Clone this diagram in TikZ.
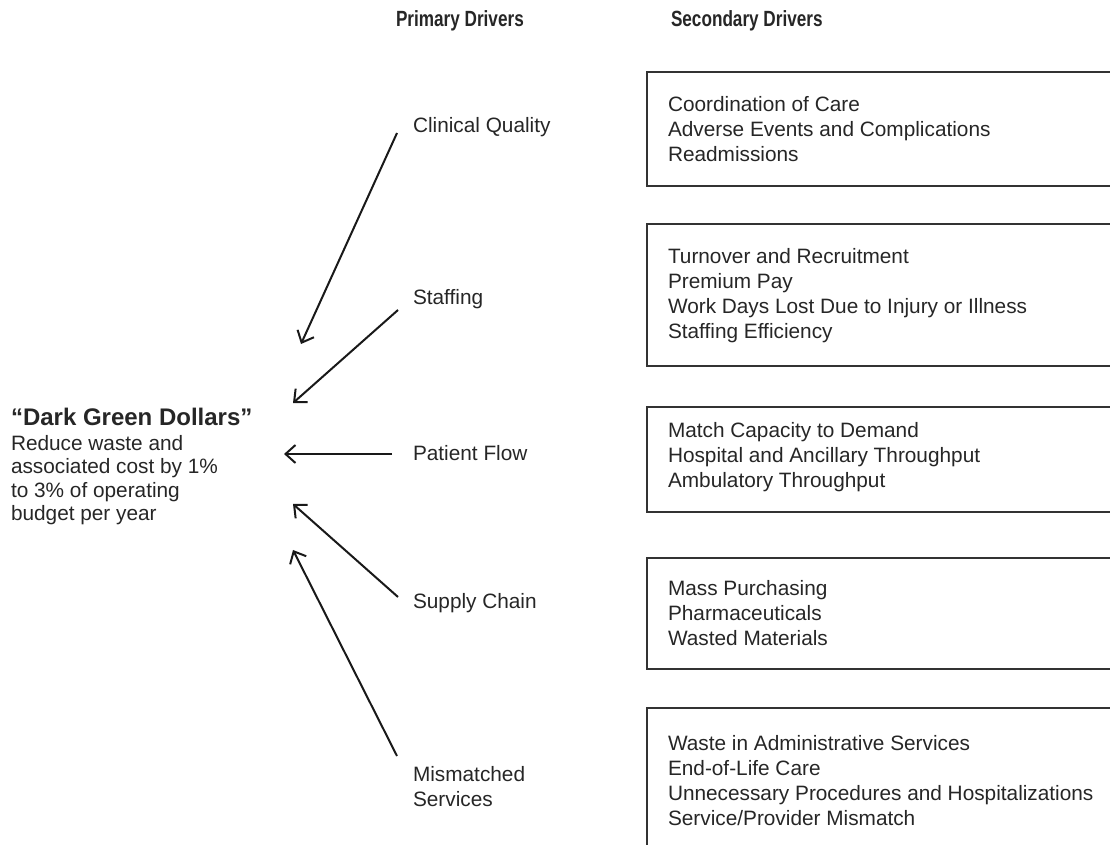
\documentclass[tikz,border=0pt]{standalone}
\usepackage{fontspec}
\setmainfont{Liberation Sans}
\newfontfamily\headfont[FakeStretch=0.78]{Liberation Sans}
\usetikzlibrary{arrows.meta,positioning}

\begin{document}
\begin{tikzpicture}[x=0.5pt,y=-0.5pt,line width=1pt,
    >={Straight Barb[length=5pt,width=9pt]},
    font=\fontsize{10.4}{12.5}\selectfont]
  \tikzstyle{every node}=[inner sep=0pt,anchor=west,align=left,text=black!85]
  \tikzstyle{heading}=[font=\headfont\bfseries\fontsize{11}{13}\selectfont]
  \tikzstyle{goal}=[font=\bfseries\fontsize{12}{14}\selectfont]
  \tikzstyle{drvbox}=[draw=black!80,line width=1.2pt]

  \clip (0,0) rectangle (1110,845);

  \node[heading] (hp) at (395,21) {Primary Drivers};
  \node[heading] (hs) at (670,21) {Secondary Drivers};

  \node[goal] (dgd) at (10,417) {``Dark Green Dollars''};
  \node[font=\fontsize{10.4}{11.7}\selectfont] (dgdtxt) at (10,480)
    {Reduce waste and\\associated cost by 1\%\\to 3\% of operating\\budget per year};

  \node (cq) at (412,127) {Clinical Quality};
  \node (st) at (412,299) {Staffing};
  \node (pf) at (412,453) {Patient Flow};
  \node (sc) at (412,603) {Supply Chain};
  \node (ms) at (412,787) {Mismatched\\Services};

  \draw[drvbox] (647,72) rectangle (1140,186);
  \draw[drvbox] (647,224) rectangle (1140,366);
  \draw[drvbox] (647,407) rectangle (1140,512);
  \draw[drvbox] (647,558) rectangle (1140,669);
  \draw[drvbox] (647,708) rectangle (1140,900);

  \node (cqlist) at (667,129) {Coordination of Care\\Adverse Events and Complications\\Readmissions};
  \node (stlist) at (667,296) {Turnover and Recruitment\\Premium Pay\\Work Days Lost Due to Injury or Illness\\Staffing Efficiency};
  \node (pflist) at (667,457) {Match Capacity to Demand\\Hospital and Ancillary Throughput\\Ambulatory Throughput};
  \node (sclist) at (667,613) {Mass Purchasing\\Pharmaceuticals\\Wasted Materials};
  \node (mslist) at (667,781) {Waste in Administrative Services\\End-of-Life Care\\Unnecessary Procedures and Hospitalizations\\Service/Provider Mismatch};

  \coordinate (t1) at (301,344);
  \coordinate (t2) at (293,403);
  \coordinate (t3) at (284,454);
  \coordinate (t4) at (293,504);
  \coordinate (t5) at (293,550);

  \path[->,color=black!90]
    ([shift={(-15,6)}]cq.west)  edge (t1)
    ([shift={(-14,11)}]st.west) edge (t2)
    ([shift={(-20,1)}]pf.west)  edge (t3)
    ([shift={(-14,-6)}]sc.west) edge (t4)
    ([shift={(-15,-31)}]ms.west) edge (t5);
\end{tikzpicture}
\end{document}
